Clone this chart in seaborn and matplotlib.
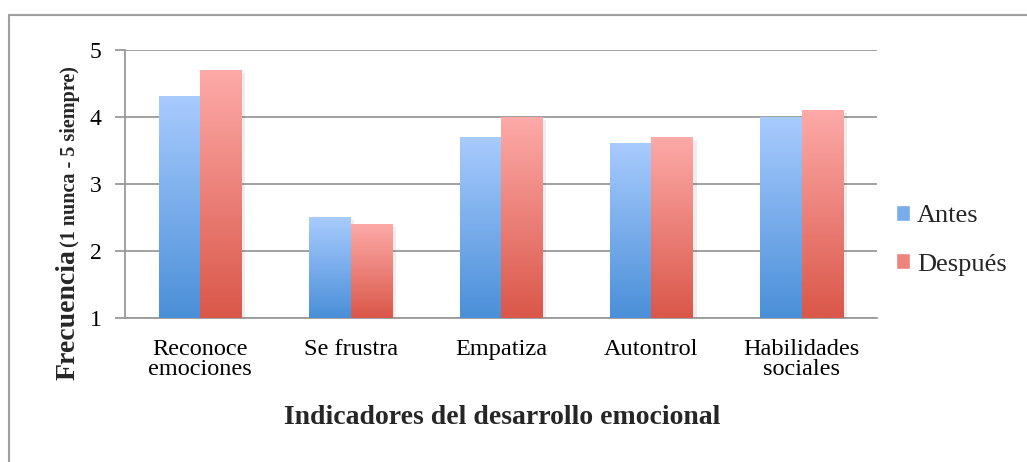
import numpy as np
import pandas as pd
import matplotlib
matplotlib.use("Agg")
import matplotlib.pyplot as plt
import seaborn as sns
from matplotlib.colors import LinearSegmentedColormap
from matplotlib.patches import Rectangle
from matplotlib.lines import Line2D

categorias = ["Reconoce\nemociones", "Se frustra", "Empatiza", "Autontrol", "Habilidades\nsociales"]
antes = [4.3, 2.5, 3.7, 3.6, 4.0]
despues = [4.7, 2.4, 4.0, 3.7, 4.1]
series = ["Antes", "Después"]

df = pd.DataFrame({
    "categoria": categorias * 2,
    "valor": antes + despues,
    "serie": [series[0]] * len(antes) + [series[1]] * len(despues),
})

sns.set_theme(style="white")
plt.rcParams["font.family"] = ["Liberation Serif", "DejaVu Serif"]

W, H = 1027, 462
fig = plt.figure(figsize=(W / 100, H / 100), dpi=100)
ax = fig.add_axes([125 / W, 1 - 318 / H, 752 / W, 268 / H])

sns.barplot(data=df, x="categoria", y="valor", hue="serie", ax=ax,
            width=0.55, gap=0, palette=["#7aaeea", "#ec7f78"], legend=False)

grad = [
    LinearSegmentedColormap.from_list("b", ["#4a8fd8", "#a8cbfe"]),
    LinearSegmentedColormap.from_list("r", ["#da5749", "#fdaaa8"]),
]
ramp = np.linspace(0, 1, 256).reshape(-1, 1)
n = len(categorias)
for i, p in enumerate(ax.patches[:2 * n]):
    s = i // n
    x0, w = p.get_x(), p.get_width()
    top = p.get_y() + p.get_height()
    # soft shadow to the right
    ax.add_patch(Rectangle((x0 + 0.025, 1), w, top - 1 - 0.04, facecolor="#000000",
                           alpha=0.07, edgecolor="none", zorder=2))
    ax.imshow(ramp, extent=(x0, x0 + w, 1, top), origin="lower", cmap=grad[s],
              aspect="auto", zorder=3)
    p.set_visible(False)

ax.set_xlim(-0.5, n - 0.5)
ax.set_ylim(1, 5)
ax.set_yticks([1, 2, 3, 4, 5])
ax.yaxis.grid(True, color="#9a9a9a", linewidth=1.3)
ax.set_axisbelow(True)
for k in ["top", "right"]:
    ax.spines[k].set_visible(False)
for k in ["left", "bottom"]:
    ax.spines[k].set_color("#9a9a9a")
    ax.spines[k].set_linewidth(1.3)
ax.tick_params(axis="y", length=7, color="#9a9a9a", width=1.3, labelsize=17, pad=10,
               labelcolor="black", left=True)
ax.tick_params(axis="x", length=0, labelsize=17.5, pad=15, labelcolor="black")
for t in ax.get_xticklabels():
    t.set_linespacing(0.95)
ax.set_xlabel("")
ax.set_ylabel("")

fig.text(502 / W, 1 - 418 / H, "Indicadores del desarrollo emocional", ha="center", va="center",
         fontsize=20, fontweight="bold")

# y label: two sizes in one line
t1 = fig.text(68 / W, 1 - 380 / H, "Frecuencia", rotation=90, ha="center", va="bottom",
              fontsize=20, fontweight="bold")
fig.canvas.draw()
bb = t1.get_window_extent()
fig.text(70 / W, (bb.y1 + 2) / H, "(1 nunca - 5 siempre)", rotation=90,
         ha="center", va="bottom", fontsize=14.5, fontweight="bold")

# legend
handles = [Rectangle((0, 0), 1, 1, facecolor="#79acea"), Rectangle((0, 0), 1, 1, facecolor="#ee847c")]
fig.legend(handles, series, loc="center left", bbox_to_anchor=(0.849, 0.48), frameon=False,
           fontsize=19, handlelength=0.55, handleheight=0.55, handletextpad=0.25, labelspacing=1.0)

# outer chart border (top and left visible)
fig.add_artist(Line2D([9 / W, 9 / W], [0, 1 - 15 / H], color="#a0a0a0", linewidth=1.5))
fig.add_artist(Line2D([9 / W, 1], [1 - 15 / H, 1 - 15 / H], color="#a0a0a0", linewidth=1.5))

fig.savefig("out.png", dpi=100)
